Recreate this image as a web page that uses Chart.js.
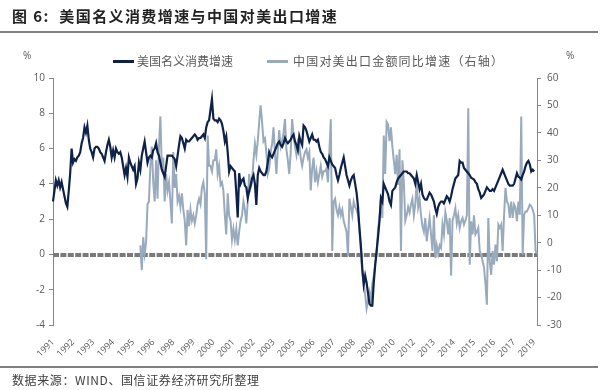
<!DOCTYPE html>
<html>
<head>
<meta charset="utf-8">
<script src="https://cdn.jsdelivr.net/npm/chart.js@4.4.1/dist/chart.umd.min.js"></script>
<style>
  body { margin: 0; background: #fff; font-family: "Noto Sans CJK SC", sans-serif; }
  #wrap { position: relative; width: 600px; height: 390px; overflow: hidden; }
  #chart { position: absolute; left: 0; top: 0; }
  .txt { position: absolute; white-space: nowrap; color: #404040; }
  .rule { position: absolute; left: 0; width: 598px; border-top: 2px solid #808080; }
  .swatch { position: absolute; width: 21px; height: 3px; }
</style>
</head>
<body>
<div id="wrap">
  <canvas id="chart" width="600" height="390"></canvas>
  <div class="txt" style="left:12px;top:5px;font-size:15px;font-weight:bold;color:#222;letter-spacing:1.4px;">图 6:&nbsp; 美国名义消费增速与中国对美出口增速</div>
  <div class="rule" style="top:31px;"></div>
  <div class="txt" style="left:23px;top:48px;font-size:10px;color:#595959;font-family:'Open Sans';">%</div>
  <div class="txt" style="left:566px;top:48px;font-size:10px;color:#595959;font-family:'Open Sans';">%</div>
  <div class="swatch" style="left:113px;top:60px;background:#0e2148;"></div>
  <div class="txt" style="left:137px;top:52px;font-size:12px;color:#595959;">美国名义消费增速</div>
  <div class="swatch" style="left:267px;top:60px;background:#9aaabd;"></div>
  <div class="txt" style="left:293px;top:52px;font-size:12px;color:#595959;letter-spacing:1.2px;">中国对美出口金额同比增速（右轴）</div>
  <div class="rule" style="top:366px;"></div>
  <div class="txt" style="left:12px;top:371px;font-size:12px;letter-spacing:0.6px;">数据来源：WIND、国信证券经济研究所整理</div>
</div>
<script>
// monthly, Jan 1991 - Mar 2019
const startYear = 1991;
const monthCount = 339;
const tickYears = ["1991", "1992", "1993", "1994", "1995", "1996", "1998", "1999", "2000",
  "2001", "2002", "2003", "2005", "2006", "2007", "2008", "2009", "2010", "2012", "2013",
  "2014", "2015", "2016", "2017", "2019"];
const tickEvery = 14;

// US nominal consumption growth, % (left axis)
const usConsumption = [
  3.0, 3.6, 4.2, 3.9, 4.2, 3.8, 4.1, 3.7, 3.3, 2.9, 2.7, 3.6,
  4.6, 6.0, 5.2, 5.4, 5.3, 5.5, 5.6, 5.8, 6.3, 6.6, 7.2, 6.9,
  7.3, 6.5, 6.0, 5.8, 5.5, 6.0, 6.1, 6.1, 6.0, 5.8, 5.7, 5.5,
  5.3, 5.8, 6.2, 6.5, 6.1, 5.5, 5.9, 5.5, 6.0, 5.8, 5.7, 5.8,
  5.5, 5.0, 4.5, 4.9, 4.4, 5.5, 5.2, 5.0, 4.8, 5.0, 4.0, 4.3,
  5.2, 4.8, 5.6, 6.0, 6.4, 5.8, 5.2, 5.5, 5.6, 5.5, 5.9, 6.0,
  6.3, 5.8, 5.6, 5.2, 4.8, 4.6, 4.4, 5.0, 5.6, 5.6, 5.6, 5.6,
  5.5, 5.4, 5.0, 5.6, 6.2, 6.7, 6.6, 6.3, 6.0, 6.5, 6.4, 6.4,
  6.5, 6.6, 6.7, 6.8, 6.7, 6.5, 6.6, 6.6, 6.7, 6.8, 6.6, 7.2,
  7.5, 7.6, 8.2, 8.8, 7.7, 7.6, 7.6, 7.5, 7.7, 7.6, 7.4, 7.0,
  6.4, 6.7, 5.8, 4.7, 5.0, 4.9, 4.8, 4.7, 3.5, 2.1, 4.6, 4.0,
  4.2, 4.3, 3.9, 3.8, 3.2, 3.6, 3.9, 4.3, 4.5, 4.0, 2.8, 4.5,
  4.9, 4.7, 4.6, 4.5, 4.5, 4.7, 5.2, 5.8, 5.6, 5.5, 5.7, 5.9,
  6.1, 6.3, 6.4, 6.2, 6.1, 6.3, 6.6, 6.4, 6.3, 6.4, 6.5, 6.7,
  6.8, 6.4, 6.2, 5.9, 6.7, 6.4, 6.2, 7.3, 7.2, 7.0, 6.7, 6.4,
  6.6, 6.8, 6.5, 6.5, 6.4, 6.5, 6.1, 5.8, 5.7, 5.5, 5.4, 5.2,
  5.0, 5.5, 5.3, 5.1, 5.0, 4.9, 4.5, 4.2, 4.5, 4.9, 5.2, 5.5,
  5.0, 4.5, 4.2, 3.9, 4.2, 4.4, 4.5, 4.0, 3.5, 2.7, 1.5, 0.5,
  -0.8, -1.7, -1.2, -1.6, -2.2, -2.8, -2.9, -2.9, -1.6, -0.6, 0.2, 1.0,
  1.9, 3.2, 3.0, 4.0, 3.8, 3.6, 3.4, 3.0, 2.8, 3.6, 3.7, 3.8,
  4.1, 4.3, 4.4, 4.5, 4.6, 4.7, 4.7, 4.7, 4.6, 4.6, 4.5, 4.4,
  4.3, 4.0, 4.5, 4.1, 3.7, 4.0, 3.4, 3.2, 3.1, 3.1, 3.3, 3.5,
  3.4, 3.2, 3.0, 2.6, 2.3, 2.7, 2.9, 3.0, 3.0, 2.9, 3.1, 3.3,
  3.2, 3.0, 3.3, 3.7, 4.0, 4.3, 4.4, 4.5, 5.3, 5.2, 5.2, 4.9,
  4.8, 4.7, 4.6, 4.5, 4.35, 4.3, 4.25, 4.1, 4.0, 3.7, 3.5, 3.2,
  3.3, 3.4, 3.6, 3.8, 3.7, 3.6, 3.6, 3.7, 3.6, 3.8, 4.0, 4.2,
  4.4, 4.6, 4.8, 4.6, 4.4, 4.2, 4.0, 3.9, 3.9, 3.9, 4.0, 4.3,
  4.6, 4.4, 4.35, 4.25, 4.5, 4.7, 5.0, 5.2, 5.3, 5.1, 4.7, 4.8,
  4.7
];

// China exports to US, yoy %, from Feb 1996 (right axis)
const exportsStart = 61;
const chinaExports = [
  -1, -10, 2, -4, 0, 14, 15, 28, 35, 22, 15,
  30, 16, 35, 46, 27, 31, 15, 25, 19, 22, 15, 7,
  33, 20, 25, 15, 17, 13, 18, 12, 8, -1, 12, 6,
  12, 8, 10, 7, 10, 14, 16, 14, 20, 22, 18, -6,
  39, 28, 28, 26, 30, 30, 34, 25, 28, 21, 22, 19,
  10, 3, 18, 10, 8, 1, 5, 1, 5, -1, 4, 8,
  10, 15, 12, 7, 15, 25, 20, 22, 30, 36, 32, 37,
  44, 50, 44, 37, 38, 33, 25, 27, 33, 36, 42, 33,
  25, 34, 41, 35, 37, 40, 45, 34, 30, 25, 33, 45,
  39, 35, 32, 37, 36, 31, 28, 31, 33, 34, 31, 33,
  19, 27, 31, 22, 26, 22, 25, 28, 24, 26, 26, 27,
  22, 33, 45, -3, 15, 16, 12, 10, 13, 10, 12, 8,
  6, 4, -5, 16, 13, 10, 15, 13, 12, 10, 5, -3,
  -11, -15, -19, -24, -21, -18, -21, -15, -12, -8, -4, 5,
  9, 16, 9, 39, 25, 44, 43, 37, 42, 35, 30, 25,
  32, 21, 34, -3, 30, 22, 8, 10, 13, 11, 14, 16,
  10, 14, 22, 13, 16, 10, 6, 4, 9, 0.5, 5, 9,
  3, -3, 10, -5.6, -1, -4, -1, -2, 6.6, 3, 11, 8,
  3, 9, -12, 8, 10, 12.6, 7, 10, 5.4, 7.8, 9, 6.6,
  8, 10, 49, -8, 7.8, 3, 10, 3, 4, 5.4, -3, -4.4,
  -6.8, -9, -15, -22.6, 9, -6.8, -11.7, -3, -8, -0.7, -6.8, 6.6,
  5.4, 6.6, -3, 10, 20, 15, 13.9, 9, 15, 9, 13.9, 12.6,
  7.8, 15, 10.2, 46, -4.4, 10.2, 11.4, 11.4, 12.6, 13.9, 13.3, 12,
  10.2, -3, -4
];

const months = [];
for (let i = 0; i < monthCount; i++) {
  const y = startYear + Math.floor(i / 12);
  months.push(y + "-" + String(i % 12 + 1).padStart(2, "0"));
}
const exportsSeries = new Array(exportsStart).fill(null).concat(chinaExports);

// the dashed zero line of the left axis
const zeroLine = {
  id: "zeroLine",
  beforeDatasetsDraw(chart) {
    const { ctx, chartArea, scales } = chart;
    const y = Math.round(scales.y.getPixelForValue(0)) + 1;
    ctx.save();
    ctx.strokeStyle = "#7a7a7a";
    ctx.lineWidth = 4;
    ctx.setLineDash([6, 1.4]);
    ctx.beginPath();
    ctx.moveTo(chartArea.left, y);
    ctx.lineTo(chartArea.right, y);
    ctx.stroke();
    ctx.restore();
  }
};

const tickFont = { family: "Open Sans", size: 10 };
const axisGrey = "#868686";

new Chart(document.getElementById("chart"), {
  type: "line",
  data: {
    labels: months,
    datasets: [
      {
        label: "美国名义消费增速",
        data: usConsumption,
        yAxisID: "y",
        borderColor: "#0e2148",
        borderWidth: 2.2,
        pointRadius: 0,
        tension: 0,
        order: 1
      },
      {
        label: "中国对美出口金额同比增速（右轴）",
        data: exportsSeries,
        yAxisID: "y1",
        borderColor: "#9aaabd",
        borderWidth: 2,
        pointRadius: 0,
        tension: 0,
        order: 2
      }
    ]
  },
  options: {
    responsive: false,
    animation: false,
    layout: { padding: { top: 78, left: 0, right: 0, bottom: 0 } },
    plugins: { legend: { display: false }, tooltip: { enabled: false } },
    scales: {
      x: {
        grid: { display: false },
        border: { display: false },
        ticks: {
          autoSkip: false,
          minRotation: 45,
          maxRotation: 45,
          padding: 4,
          color: "#595959",
          font: { family: "Open Sans", size: 9 },
          callback: (v, i) => (i % tickEvery === 0 ? tickYears[i / tickEvery] : "")
        },
        afterFit: (s) => { s.height = 65; }
      },
      y: {
        position: "left",
        min: -4,
        max: 10,
        ticks: { stepSize: 2, color: "#595959", font: tickFont, padding: 4 },
        grid: { drawOnChartArea: false, color: axisGrey, tickLength: 4 },
        border: { color: axisGrey },
        afterFit: (s) => { s.width = 53; }
      },
      y1: {
        position: "right",
        min: -30,
        max: 60,
        ticks: { stepSize: 10, color: "#595959", font: tickFont, padding: 6 },
        grid: { drawOnChartArea: false, color: axisGrey, tickLength: 4 },
        border: { color: axisGrey },
        afterFit: (s) => { s.width = 63; }
      }
    }
  },
  plugins: [zeroLine]
});
</script>
</body>
</html>
